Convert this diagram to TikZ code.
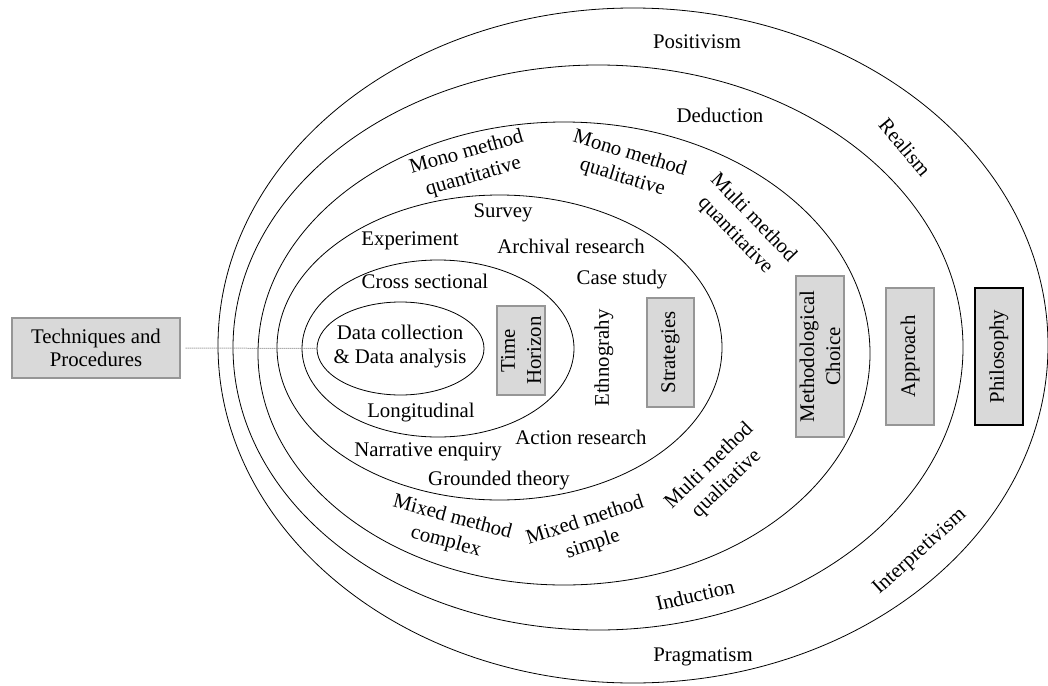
\documentclass[tikz,border=0pt]{standalone}
\usepackage{fontspec}
\setmainfont{Liberation Serif}
\usetikzlibrary{shapes.geometric}
\definecolor{boxfill}{RGB}{217,217,217}
\definecolor{boxline}{RGB}{150,150,150}
\begin{document}
\begin{tikzpicture}[x=1pt,y=-1pt,
  ring/.style={draw, ellipse, line width=0.8pt, inner sep=0pt},
  lbl/.style={font=\fontsize{20.8}{25}\selectfont, align=center, inner sep=0pt},
  tag/.style={draw=boxline, fill=boxfill, line width=1.2pt,
    font=\fontsize{20.8}{26}\selectfont, align=center, inner sep=0pt},
  vtag/.style={tag, rotate=90},
]
\useasboundingbox (0,0) rectangle (1048,685);

% nested layers of the onion
\node[ring, minimum width=830pt, minimum height=675pt] (philosophy) at (633,345.5) {};
\node[ring, minimum width=730pt, minimum height=565pt] (approach) at (598,347.5) {};
\node[ring, minimum width=612pt, minimum height=463pt] (choice) at (564,353.5) {};
\node[ring, minimum width=445pt, minimum height=305pt] (strategies) at (499.5,347.5) {};
\node[ring, minimum width=272pt, minimum height=177pt] (horizon) at (438,348.5) {};
\node[ring, minimum width=167pt, minimum height=93pt] (data) at (400.5,348.5) {};

% centre text
\node[lbl, font=\fontsize{20.8}{24}\selectfont] (datatext) at (400,347) {Data collection\\\& Data analysis};

% layer tags
\node[tag, minimum width=168pt, minimum height=60pt, font=\fontsize{20.8}{23}\selectfont] (tech) at (96,348) {Techniques and\\Procedures};
\node[vtag, minimum width=89pt, minimum height=48pt] (thtag) at (521,350.5) {Time\\Horizon};
\node[vtag, minimum width=109pt, minimum height=47pt] (sttag) at (670.5,352.5) {Strategies};
\node[vtag, minimum width=161pt, minimum height=48pt] (mctag) at (820,356.5) {Methodological\\Choice};
\node[vtag, minimum width=137pt, minimum height=48pt] (aptag) at (910,356.5) {Approach};
\node[vtag, minimum width=137pt, minimum height=48pt, draw=black] (phtag) at (999,356.5) {Philosophy};

% link from techniques to the core
\draw[densely dotted, line width=1pt, gray, shorten <=5pt] (tech.east) -- (data.west);

% philosophy layer
\node[lbl] (positivism) at (697,42) {Positivism};
\node[lbl, rotate=-50] (realism) at (905,147) {Realism};
\node[lbl, rotate=42] (interpretivism) at (920,552) {Interpretivism};
\node[lbl] (pragmatism) at (703,657) {Pragmatism};

% approach layer
\node[lbl] (deduction) at (720,115) {Deduction};
\node[lbl, rotate=13] (induction) at (695,595) {Induction};

% methodological choice layer
\node[lbl, rotate=16] (monoquant) at (470,165) {Mono method\\quantitative};
\node[lbl, rotate=-17] (monoqual) at (626,166) {Mono method\\qualitative};
\node[lbl, rotate=-46] (multiquant) at (744,227) {Multi method\\quantitative};
\node[lbl, rotate=-15] (mixcomplex) at (449,530) {Mixed method\\complex};
\node[lbl, rotate=18] (mixsimple) at (589,533) {Mixed method\\simple};
\node[lbl, rotate=44] (multiqual) at (718,475) {Multi method\\qualitative};

% strategies layer
\node[lbl] (survey) at (503,213) {Survey};
\node[lbl] (experiment) at (410,241) {Experiment};
\node[lbl] (archival) at (571,246) {Archival research};
\node[lbl] (casestudy) at (622,280) {Case study};
\node[lbl, rotate=90] (ethno) at (604,358) {Ethnograhy};
\node[lbl] (action) at (581,437) {Action research};
\node[lbl] (narrative) at (428,452) {Narrative enquiry};
\node[lbl] (grounded) at (499,481) {Grounded theory};

% time horizon layer
\node[lbl] (cross) at (425,281) {Cross sectional};
\node[lbl] (longitudinal) at (421,413) {Longitudinal};
\end{tikzpicture}
\end{document}
